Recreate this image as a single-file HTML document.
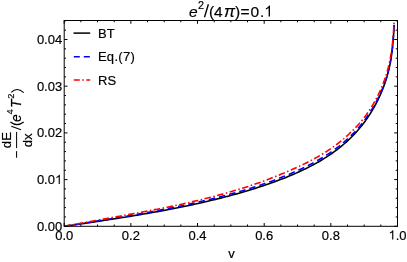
<!DOCTYPE html>
<html><head><meta charset="utf-8"><style>
html,body{margin:0;padding:0;background:#fff;}
svg{display:block;will-change:transform;}
text{stroke:#000;stroke-width:0.18px;font-family:"Liberation Sans",sans-serif;}
</style></head><body>
<svg width="407" height="262" viewBox="0 0 407 262">
<rect width="407" height="262" fill="#fff"/>
<g fill="none" stroke-linejoin="round">
<path d="M64.23,226.30 L66.75,225.93 L69.27,225.56 L71.79,225.19 L74.32,224.82 L76.84,224.45 L79.36,224.08 L81.88,223.71 L84.40,223.34 L86.92,222.97 L89.44,222.59 L91.96,222.22 L94.48,221.84 L97.00,221.47 L99.52,221.09 L102.04,220.71 L104.56,220.32 L107.08,219.94 L109.60,219.55 L112.12,219.16 L114.64,218.77 L117.16,218.38 L119.68,217.98 L122.20,217.58 L124.72,217.18 L127.25,216.77 L129.77,216.36 L132.29,215.95 L134.81,215.53 L137.33,215.11 L139.85,214.68 L142.37,214.26 L144.89,213.82 L147.41,213.39 L149.93,212.94 L152.45,212.50 L154.97,212.05 L157.49,211.59 L160.01,211.13 L162.53,210.66 L165.05,210.19 L167.57,209.71 L170.09,209.23 L172.61,208.74 L175.13,208.25 L177.65,207.74 L180.18,207.24 L182.70,206.72 L185.22,206.20 L187.74,205.67 L190.26,205.14 L192.78,204.60 L195.30,204.05 L197.82,203.49 L200.34,202.93 L202.86,202.36 L205.38,201.78 L207.90,201.19 L210.42,200.59 L212.94,199.99 L215.46,199.37 L217.98,198.75 L220.50,198.12 L223.02,197.48 L225.54,196.83 L228.06,196.17 L230.58,195.49 L233.11,194.81 L235.63,194.12 L238.15,193.42 L240.67,192.70 L243.19,191.98 L245.71,191.24 L248.23,190.49 L250.75,189.72 L253.27,188.95 L255.79,188.15 L258.31,187.35 L260.83,186.53 L263.35,185.70 L265.87,184.84 L268.39,183.98 L270.91,183.09 L273.43,182.19 L275.95,181.27 L278.47,180.33 L280.99,179.37 L283.51,178.39 L286.04,177.39 L288.56,176.36 L291.08,175.31 L293.60,174.23 L296.12,173.13 L298.64,171.99 L301.16,170.83 L303.68,169.64 L306.20,168.41 L308.72,167.14 L311.24,165.84 L313.76,164.50 L316.28,163.11 L318.80,161.68 L321.32,160.20 L323.84,158.67 L326.36,157.08 L328.88,155.43 L331.40,153.72 L333.92,151.94 L336.44,150.08 L338.97,148.15 L341.49,146.12 L344.01,144.01 L346.53,141.79 L349.05,139.46 L351.57,137.01 L354.09,134.42 L356.61,131.69 L359.13,128.80 L361.65,125.73 L364.17,122.47 L364.55,121.96 L364.93,121.44 L365.31,120.92 L365.69,120.40 L366.07,119.87 L366.45,119.33 L366.83,118.79 L367.21,118.24 L367.59,117.69 L367.97,117.13 L368.35,116.56 L368.73,115.99 L369.11,115.41 L369.49,114.83 L369.87,114.24 L370.25,113.64 L370.63,113.04 L371.00,112.43 L371.38,111.81 L371.76,111.18 L372.14,110.55 L372.52,109.91 L372.90,109.27 L373.28,108.61 L373.66,107.95 L374.04,107.28 L374.42,106.60 L374.80,105.91 L375.18,105.21 L375.56,104.50 L375.94,103.79 L376.32,103.06 L376.70,102.32 L377.08,101.58 L377.46,100.82 L377.84,100.05 L378.22,99.27 L378.60,98.48 L378.98,97.68 L379.36,96.87 L379.74,96.04 L380.12,95.20 L380.50,94.34 L380.88,93.47 L381.26,92.58 L381.64,91.68 L382.02,90.76 L382.40,89.82 L382.78,88.87 L383.16,87.89 L383.54,86.89 L383.91,85.87 L384.29,84.83 L384.67,83.76 L385.05,82.67 L385.43,81.54 L385.81,80.38 L386.19,79.19 L386.57,77.96 L386.95,76.69 L387.33,75.37 L387.71,74.01 L388.09,72.58 L388.47,71.09 L388.85,69.53 L389.23,67.89 L389.61,66.16 L389.99,64.31 L390.37,62.34 L390.75,60.22 L391.13,57.92 L391.51,55.41 L391.89,52.63 L392.27,49.53 L392.65,46.03 L393.03,42.00 L393.41,37.30 L393.79,31.70 L394.17,24.88" stroke="#000" stroke-width="1.6"/>
<path d="M64.23,226.29 L66.75,225.89 L69.27,225.49 L71.79,225.09 L74.32,224.69 L76.84,224.29 L79.36,223.89 L81.88,223.48 L84.40,223.08 L86.92,222.68 L89.44,222.27 L91.96,221.87 L94.48,221.46 L97.00,221.06 L99.52,220.65 L102.04,220.24 L104.56,219.83 L107.08,219.42 L109.60,219.00 L112.12,218.59 L114.64,218.17 L117.16,217.75 L119.68,217.32 L122.20,216.90 L124.72,216.47 L127.25,216.04 L129.77,215.61 L132.29,215.17 L134.81,214.73 L137.33,214.28 L139.85,213.84 L142.37,213.38 L144.89,212.93 L147.41,212.47 L149.93,212.00 L152.45,211.54 L154.97,211.06 L157.49,210.59 L160.01,210.10 L162.53,209.62 L165.05,209.13 L167.57,208.63 L170.09,208.13 L172.61,207.62 L175.13,207.11 L177.65,206.59 L180.18,206.06 L182.70,205.53 L185.22,205.00 L187.74,204.45 L190.26,203.90 L192.78,203.35 L195.30,202.79 L197.82,202.22 L200.34,201.64 L202.86,201.06 L205.38,200.46 L207.90,199.86 L210.42,199.26 L212.94,198.64 L215.46,198.01 L217.98,197.38 L220.50,196.74 L223.02,196.08 L225.54,195.42 L228.06,194.75 L230.58,194.07 L233.11,193.37 L235.63,192.67 L238.15,191.95 L240.67,191.22 L243.19,190.48 L245.71,189.73 L248.23,188.96 L250.75,188.18 L253.27,187.38 L255.79,186.57 L258.31,185.75 L260.83,184.90 L263.35,184.05 L265.87,183.17 L268.39,182.29 L270.91,181.38 L273.43,180.45 L275.95,179.51 L278.47,178.55 L280.99,177.57 L283.51,176.57 L286.04,175.55 L288.56,174.51 L291.08,173.44 L293.60,172.35 L296.12,171.24 L298.64,170.10 L301.16,168.93 L303.68,167.74 L306.20,166.51 L308.72,165.24 L311.24,163.94 L313.76,162.60 L316.28,161.22 L318.80,159.79 L321.32,158.31 L323.84,156.78 L326.36,155.19 L328.88,153.55 L331.40,151.84 L333.92,150.06 L336.44,148.21 L338.97,146.28 L341.49,144.26 L344.01,142.15 L346.53,139.94 L349.05,137.61 L351.57,135.17 L354.09,132.59 L356.61,129.87 L359.13,126.98 L361.65,123.92 L364.17,120.67 L364.55,120.16 L364.93,119.65 L365.31,119.13 L365.69,118.61 L366.07,118.08 L366.45,117.55 L366.83,117.02 L367.21,116.48 L367.59,115.93 L367.97,115.38 L368.35,114.82 L368.73,114.26 L369.11,113.70 L369.49,113.12 L369.87,112.54 L370.25,111.96 L370.63,111.37 L371.00,110.77 L371.38,110.17 L371.76,109.56 L372.14,108.94 L372.52,108.32 L372.90,107.69 L373.28,107.05 L373.66,106.40 L374.04,105.75 L374.42,105.09 L374.80,104.41 L375.18,103.74 L375.56,103.05 L375.94,102.35 L376.32,101.64 L376.70,100.93 L377.08,100.20 L377.46,99.47 L377.84,98.72 L378.22,97.96 L378.60,97.19 L378.98,96.41 L379.36,95.61 L379.74,94.81 L380.12,93.99 L380.50,93.15 L380.88,92.30 L381.26,91.44 L381.64,90.56 L382.02,89.66 L382.40,88.74 L382.78,87.81 L383.16,86.85 L383.54,85.88 L383.91,84.88 L384.29,83.86 L384.67,82.81 L385.05,81.74 L385.43,80.63 L385.81,79.50 L386.19,78.33 L386.57,77.12 L386.95,75.87 L387.33,74.57 L387.71,73.22 L388.09,71.82 L388.47,70.35 L388.85,68.81 L389.23,67.18 L389.61,65.47 L389.99,63.64 L390.37,61.69 L390.75,59.58 L391.13,57.30 L391.51,54.81 L391.89,52.05 L392.27,48.96 L392.65,45.47 L393.03,41.46 L393.41,36.77 L393.79,31.19 L394.17,24.38" stroke="#0000ff" stroke-width="1.6" stroke-dasharray="6.5,4"/>
<path d="M64.23,226.29 L66.75,225.83 L69.27,225.36 L71.79,224.89 L74.32,224.43 L76.84,223.96 L79.36,223.50 L81.88,223.04 L84.40,222.58 L86.92,222.12 L89.44,221.66 L91.96,221.20 L94.48,220.74 L97.00,220.28 L99.52,219.82 L102.04,219.37 L104.56,218.91 L107.08,218.45 L109.60,218.00 L112.12,217.54 L114.64,217.09 L117.16,216.63 L119.68,216.18 L122.20,215.72 L124.72,215.26 L127.25,214.81 L129.77,214.35 L132.29,213.89 L134.81,213.44 L137.33,212.97 L139.85,212.51 L142.37,212.04 L144.89,211.57 L147.41,211.10 L149.93,210.63 L152.45,210.15 L154.97,209.66 L157.49,209.17 L160.01,208.68 L162.53,208.18 L165.05,207.67 L167.57,207.16 L170.09,206.65 L172.61,206.12 L175.13,205.59 L177.65,205.05 L180.18,204.50 L182.70,203.95 L185.22,203.38 L187.74,202.81 L190.26,202.23 L192.78,201.65 L195.30,201.05 L197.82,200.45 L200.34,199.84 L202.86,199.22 L205.38,198.59 L207.90,197.95 L210.42,197.31 L212.94,196.65 L215.46,195.99 L217.98,195.31 L220.50,194.63 L223.02,193.93 L225.54,193.23 L228.06,192.52 L230.58,191.79 L233.11,191.06 L235.63,190.31 L238.15,189.55 L240.67,188.78 L243.19,188.00 L245.71,187.20 L248.23,186.39 L250.75,185.56 L253.27,184.71 L255.79,183.84 L258.31,182.96 L260.83,182.05 L263.35,181.14 L265.87,180.20 L268.39,179.25 L270.91,178.28 L273.43,177.30 L275.95,176.30 L278.47,175.28 L280.99,174.25 L283.51,173.20 L286.04,172.13 L288.56,171.04 L291.08,169.94 L293.60,168.82 L296.12,167.68 L298.64,166.52 L301.16,165.34 L303.68,164.14 L306.20,162.91 L308.72,161.64 L311.24,160.34 L313.76,159.00 L316.28,157.61 L318.80,156.18 L321.32,154.70 L323.84,153.17 L326.36,151.58 L328.88,149.93 L331.40,148.22 L333.92,146.44 L336.44,144.58 L338.97,142.65 L341.49,140.62 L344.01,138.51 L346.53,136.29 L349.05,133.97 L351.57,131.57 L354.09,129.07 L356.61,126.45 L359.13,123.69 L361.65,120.76 L364.17,117.62 L364.55,117.13 L364.93,116.64 L365.31,116.13 L365.69,115.62 L366.07,115.11 L366.45,114.59 L366.83,114.06 L367.21,113.53 L367.59,112.99 L367.97,112.45 L368.35,111.89 L368.73,111.34 L369.11,110.77 L369.49,110.20 L369.87,109.62 L370.25,109.03 L370.63,108.43 L371.00,107.83 L371.38,107.22 L371.76,106.60 L372.14,105.98 L372.52,105.35 L372.90,104.71 L373.28,104.06 L373.66,103.40 L374.04,102.74 L374.42,102.06 L374.80,101.38 L375.18,100.69 L375.56,99.99 L375.94,99.28 L376.32,98.56 L376.70,97.84 L377.08,97.10 L377.46,96.35 L377.84,95.59 L378.22,94.81 L378.60,94.03 L378.98,93.23 L379.36,92.42 L379.74,91.60 L380.12,90.76 L380.50,89.91 L380.88,89.05 L381.26,88.17 L381.64,87.27 L382.02,86.36 L382.40,85.43 L382.78,84.48 L383.16,83.51 L383.54,82.51 L383.91,81.50 L384.29,80.46 L384.67,79.40 L385.05,78.31 L385.43,77.19 L385.81,76.03 L386.19,74.84 L386.57,73.62 L386.95,72.35 L387.33,71.04 L387.71,69.67 L388.09,68.25 L388.47,66.77 L388.85,65.21 L389.23,63.57 L389.61,61.84 L389.99,60.00 L390.37,58.03 L390.75,55.91 L391.13,53.61 L391.51,51.10 L391.89,48.33 L392.27,45.23 L392.65,41.72 L393.03,37.70 L393.41,33.00 L393.79,27.40 L394.17,20.58" stroke="#ff0000" stroke-width="1.6" stroke-dasharray="6.5,2.5,1.5,2.5"/>
</g>
<g stroke="#000" stroke-width="1" fill="none">
<rect x="64.2" y="20.5" width="333.3" height="205.8"/>
<path d="M64.20,226.3 v-3.3 M64.20,20.5 v3.3"/><path d="M80.87,226.3 v-1.8 M80.87,20.5 v1.8"/><path d="M97.53,226.3 v-1.8 M97.53,20.5 v1.8"/><path d="M114.20,226.3 v-1.8 M114.20,20.5 v1.8"/><path d="M130.86,226.3 v-3.3 M130.86,20.5 v3.3"/><path d="M147.53,226.3 v-1.8 M147.53,20.5 v1.8"/><path d="M164.19,226.3 v-1.8 M164.19,20.5 v1.8"/><path d="M180.86,226.3 v-1.8 M180.86,20.5 v1.8"/><path d="M197.52,226.3 v-3.3 M197.52,20.5 v3.3"/><path d="M214.19,226.3 v-1.8 M214.19,20.5 v1.8"/><path d="M230.85,226.3 v-1.8 M230.85,20.5 v1.8"/><path d="M247.52,226.3 v-1.8 M247.52,20.5 v1.8"/><path d="M264.18,226.3 v-3.3 M264.18,20.5 v3.3"/><path d="M280.85,226.3 v-1.8 M280.85,20.5 v1.8"/><path d="M297.51,226.3 v-1.8 M297.51,20.5 v1.8"/><path d="M314.18,226.3 v-1.8 M314.18,20.5 v1.8"/><path d="M330.84,226.3 v-3.3 M330.84,20.5 v3.3"/><path d="M347.51,226.3 v-1.8 M347.51,20.5 v1.8"/><path d="M364.17,226.3 v-1.8 M364.17,20.5 v1.8"/><path d="M380.84,226.3 v-1.8 M380.84,20.5 v1.8"/><path d="M397.50,226.3 v-3.3 M397.50,20.5 v3.3"/><path d="M64.2,226.30 h3.3 M397.5,226.30 h-3.3"/><path d="M64.2,216.96 h1.8 M397.5,216.96 h-1.8"/><path d="M64.2,207.62 h1.8 M397.5,207.62 h-1.8"/><path d="M64.2,198.28 h1.8 M397.5,198.28 h-1.8"/><path d="M64.2,188.94 h1.8 M397.5,188.94 h-1.8"/><path d="M64.2,179.60 h3.3 M397.5,179.60 h-3.3"/><path d="M64.2,170.26 h1.8 M397.5,170.26 h-1.8"/><path d="M64.2,160.92 h1.8 M397.5,160.92 h-1.8"/><path d="M64.2,151.58 h1.8 M397.5,151.58 h-1.8"/><path d="M64.2,142.24 h1.8 M397.5,142.24 h-1.8"/><path d="M64.2,132.90 h3.3 M397.5,132.90 h-3.3"/><path d="M64.2,123.56 h1.8 M397.5,123.56 h-1.8"/><path d="M64.2,114.22 h1.8 M397.5,114.22 h-1.8"/><path d="M64.2,104.88 h1.8 M397.5,104.88 h-1.8"/><path d="M64.2,95.54 h1.8 M397.5,95.54 h-1.8"/><path d="M64.2,86.20 h3.3 M397.5,86.20 h-3.3"/><path d="M64.2,76.86 h1.8 M397.5,76.86 h-1.8"/><path d="M64.2,67.52 h1.8 M397.5,67.52 h-1.8"/><path d="M64.2,58.18 h1.8 M397.5,58.18 h-1.8"/><path d="M64.2,48.84 h1.8 M397.5,48.84 h-1.8"/><path d="M64.2,39.50 h3.3 M397.5,39.50 h-3.3"/><path d="M64.2,30.16 h1.8 M397.5,30.16 h-1.8"/><path d="M64.2,20.82 h1.8 M397.5,20.82 h-1.8"/>
</g>
<g font-size="13" fill="#000">
<text x="64.20" y="239.6" text-anchor="middle">0.0</text><text x="130.86" y="239.6" text-anchor="middle">0.2</text><text x="197.52" y="239.6" text-anchor="middle">0.4</text><text x="264.18" y="239.6" text-anchor="middle">0.6</text><text x="330.84" y="239.6" text-anchor="middle">0.8</text><path d="M0.3726,0 H0.2847 V0.56 Q0.253,0.53 0.2014,0.4995 T0.1089,0.4541 V0.539 Q0.183,0.574 0.2385,0.6235 T0.3169,0.7197 H0.3726 Z" transform="translate(388.46,239.60) scale(13,-13)" fill="#000" stroke="none"/><text x="395.69" y="239.6">.0</text>
<text x="62.2" y="230.80" text-anchor="end">0.00</text><text x="54.97" y="184.10" text-anchor="end">0.0</text><path d="M0.3726,0 H0.2847 V0.56 Q0.253,0.53 0.2014,0.4995 T0.1089,0.4541 V0.539 Q0.183,0.574 0.2385,0.6235 T0.3169,0.7197 H0.3726 Z" transform="translate(54.97,184.10) scale(13,-13)" fill="#000" stroke="none"/><text x="62.2" y="137.40" text-anchor="end">0.02</text><text x="62.2" y="90.70" text-anchor="end">0.03</text><text x="62.2" y="44.00" text-anchor="end">0.04</text>
<text x="231.4" y="258" text-anchor="middle" font-size="13">v</text>
</g>
<g font-size="13" fill="#000">
<path d="M73.5,33.1 h16.7" stroke="#000" stroke-width="1.5"/>
<path d="M73.8,56.7 h16.4" stroke="#0000ff" stroke-width="1.5" stroke-dasharray="6,4"/>
<path d="M73.8,80.1 h16.4" stroke="#ff0000" stroke-width="1.5" stroke-dasharray="6,2.5,1.5,2.5"/>
<text x="97.9" y="37.9" letter-spacing="0.2">BT</text>
<text x="97.9" y="61.4" letter-spacing="0.3">Eq.(7)</text>
<text x="97.9" y="84.8" letter-spacing="0.2">RS</text>
</g>
<g font-size="15.5" fill="#000">
<text x="188.9" y="16.6" font-style="italic">e</text>
<text x="198.0" y="8.6" font-size="10.8">2</text>
<path d="M204.5,17.2 L208.4,4.3" stroke="#000" stroke-width="1.35" fill="none"/>
<text x="208.9" y="16.6">(</text>
<text x="214.1" y="16.6">4</text>
<text x="224.0" y="16.6" font-size="16.5" font-style="italic">π</text>
<text x="235.0" y="16.6">)</text>
<text x="240.5" y="16.6">=</text>
<text x="250.5" y="16.6">0</text>
<text x="260.0" y="16.6">.</text>
<path d="M0.3726,0 H0.2847 V0.56 Q0.253,0.53 0.2014,0.4995 T0.1089,0.4541 V0.539 Q0.183,0.574 0.2385,0.6235 T0.3169,0.7197 H0.3726 Z" transform="translate(264.20,16.60) scale(15.5,-15.5)" fill="#000" stroke="none"/>
</g>
<g transform="rotate(-90)" fill="#000">
<text x="-158.3" y="21" font-size="13">−</text>
<text x="-140" y="10.9" font-size="13.3" text-anchor="middle">dE</text>
<text x="-140.3" y="32.4" font-size="13.3" text-anchor="middle">dx</text>
<text x="-122.0" y="20.9" font-size="14" font-style="italic">e</text>
<text x="-114.5" y="13.3" font-size="9.3">4</text>
<text x="-108.0" y="20.9" font-size="14" font-style="italic">T</text>
<text x="-98.8" y="13.6" font-size="9.3">2</text>
</g>
<g fill="none" stroke="#000" stroke-width="1.05" stroke-linecap="butt">
<path d="M16.6,148.1 V131.9" stroke-width="1"/>
<path d="M21,129.7 L11.3,126.3"/>
<path d="M10.4,122.0 Q17,127.2 23.7,122.0"/>
<path d="M11.2,92.4 Q17,86.4 23.7,92.7"/>
</g>
</svg>
</body></html>
